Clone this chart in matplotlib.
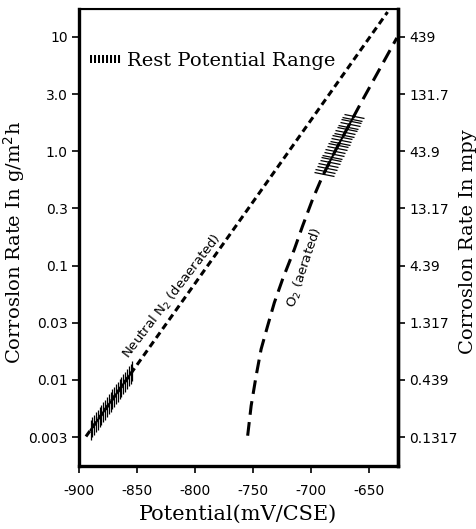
import numpy as np
import matplotlib
matplotlib.use("Agg")
import matplotlib.pyplot as plt
from matplotlib.markers import MarkerStyle
from matplotlib.transforms import Affine2D

# data (potential in mV/CSE, corrosion rate in g/m2h)
n2_potential = [-894, -773, -634]
n2_rate = [0.0032, 0.169, 16.5]

o2_potential = [-754.6, -751.6, -747.3, -743.0, -737.4, -731.6, -724.5,
                -714.4, -707.3, -698.7, -690.1, -678.6, -656.9, -626.0]
o2_rate = [0.00325, 0.00594, 0.01086, 0.01858, 0.02965, 0.0474, 0.0759,
           0.1384, 0.2213, 0.378, 0.604, 1.03, 2.65, 9.8]

n2_rest_range = (-890, -854)
o2_rest_range = (-689, -663)

x_ticks = [-900, -850, -800, -750, -700, -650]
left_tick_labels = ["10", "3.0", "1.0", "0.3", "0.1", "0.03", "0.01", "0.003"]
right_tick_labels = ["439", "131.7", "43.9", "13.17", "4.39", "1.317", "0.439", "0.1317"]
y_tick_pos = [10 ** (1 - 0.5 * i) for i in range(len(left_tick_labels))]

serif = "DejaVu Serif"
sans = "DejaVu Sans"

fig = plt.figure(figsize=(4.77, 5.29), dpi=100)
ax = fig.add_axes([79 / 477, 1 - 466 / 529, 319 / 477, 457 / 529])
ax.set_yscale("log")
ax.set_xlim(-900, -625)
ax.set_ylim(10 ** -2.753, 10 ** 1.244)


def log_interp(xs, px, py):
    return 10 ** np.interp(xs, px, np.log10(py))


# curves
ax.plot(n2_potential, n2_rate, color="black", lw=2.2, dashes=(2.2, 1.4))
ax.plot(o2_potential, o2_rate, color="black", lw=2.2, dashes=(4.5, 2.4))

# rest potential ranges
xs = np.linspace(*n2_rest_range, 24)
ax.plot(n2_rest_range, log_interp(n2_rest_range, n2_potential, n2_rate), color="black", lw=1.5)
ax.plot(xs, log_interp(xs, n2_potential, n2_rate), ls="none", color="black",
        marker="|", markersize=14, markeredgewidth=0.9)
xs = np.linspace(*o2_rest_range, 22)
xr = np.linspace(*o2_rest_range, 10)
ax.plot(xr, log_interp(xr, o2_potential, o2_rate), color="black", lw=1.5)
tick_marker = MarkerStyle("_", transform=Affine2D().rotate_deg(-12))
ax.plot(xs, log_interp(xs, o2_potential, o2_rate), ls="none", color="black",
        marker=tick_marker, markersize=14, markeredgewidth=0.9)

# curve labels
ax.text(-820, 0.054, "Neutral N$_2$ (deaerated)", rotation=52.5, fontsize=9.5,
        family=sans, ha="center", va="center", rotation_mode="anchor")
ax.text(-705.5, 0.095, "O$_2$ (aerated)", rotation=71.5, fontsize=9.5,
        family=sans, ha="center", va="center", rotation_mode="anchor")

# legend-like note
ax.text(0.083, 0.888, "IIIIIIII", transform=ax.transAxes, fontsize=8, family=sans,
        ha="center", va="center", fontweight="bold")
ax.text(0.152, 0.886, "Rest Potential Range", transform=ax.transAxes,
        fontsize=14, family=serif, ha="left", va="center")

# axes styling
ax.set_xticks(x_ticks)
ax.set_xticklabels([str(t) for t in x_ticks], family=sans, fontsize=10)
ax.set_yticks(y_tick_pos)
ax.set_yticklabels(left_tick_labels, family=sans, fontsize=10)
ax.minorticks_off()
ax.tick_params(axis="both", direction="out", length=5, width=1.2, pad=3)
ax.tick_params(axis="x", pad=8)
for side in ["left", "bottom", "right"]:
    ax.spines[side].set_linewidth(2.4)
ax.spines["top"].set_linewidth(1.5)

ax.set_xlabel("Potential(mV/CSE)", family=serif, fontsize=15)
ax.xaxis.set_label_coords(0.5, -0.085)
ax.set_ylabel("Corroslon Rate In g/m$^2$h", family=serif, fontsize=14)
ax.yaxis.set_label_coords(-0.163, 0.49)

ax2 = ax.twinx()
ax2.set_yscale("log")
ax2.set_ylim(ax.get_ylim())
ax2.set_yticks(y_tick_pos)
ax2.set_yticklabels(right_tick_labels, family=sans, fontsize=10)
ax2.minorticks_off()
ax2.tick_params(axis="y", direction="out", length=5, width=1.2, pad=3)
ax2.spines["right"].set_linewidth(2.4)
ax2.set_ylabel("Corroslon Rate In mpy", family=serif, fontsize=14)
ax2.yaxis.set_label_coords(1.19, 0.49)

fig.savefig("out.png", dpi=100)
